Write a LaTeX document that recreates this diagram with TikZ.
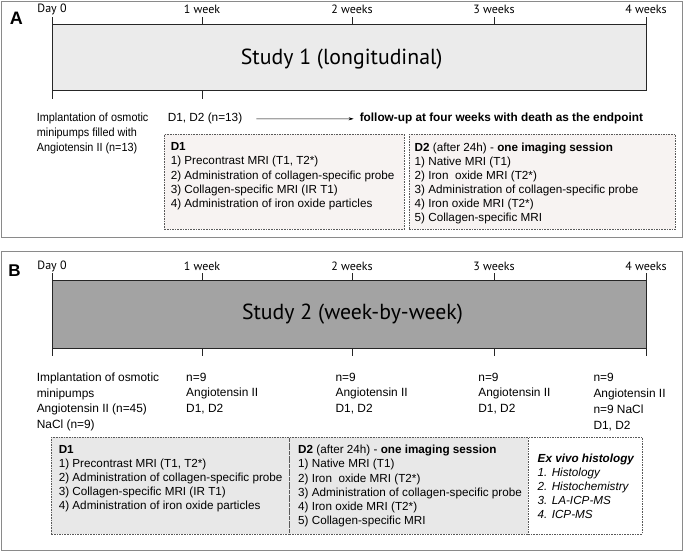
\documentclass[tikz,border=0pt]{standalone}
\usepackage{fontspec}
\setmainfont{Liberation Sans}
\newfontfamily\weekfont{PT Sans}
\newfontfamily\narrowfont{Liberation Sans}[FakeStretch=0.92]
\usetikzlibrary{arrows.meta,positioning}

\definecolor{barA}{HTML}{EBEBEB}
\definecolor{barB}{HTML}{A3A3A3}
\definecolor{boxA}{HTML}{F7F3F2}
\definecolor{boxB}{HTML}{E8E8E8}
\definecolor{framegray}{HTML}{8A8A8A}

\tikzset{
  panelframe/.style={draw=framegray, line width=1.3pt},
  timebar/.style={draw=black!85, line width=0.9pt},
  weeklabel/.style={font=\weekfont\fontsize{12}{14}\selectfont, inner sep=0pt},
  studytitle/.style={font=\weekfont\fontsize{21.8}{25}\selectfont, inner sep=0pt},
  panelletter/.style={font=\bfseries\fontsize{18}{20}\selectfont, inner sep=0pt},
  protbox/.style={draw=black!65, dash pattern=on 1.6pt off 1pt, line width=0.6pt,
    inner sep=0pt, anchor=north west},
  boxtext/.style={font=\fontsize{11.7}{14.1}\selectfont, align=left, inner sep=0pt,
    anchor=north west},
  sidetext/.style={font=\fontsize{11.9}{15.5}\selectfont, align=left, inner sep=0pt,
    anchor=north west},
  arrowline/.style={-{Stealth[length=5pt,width=3pt]}, line width=0.5pt}
}

\begin{document}
\begin{tikzpicture}[x=1pt,y=-1pt]
\useasboundingbox (0,0) rectangle (685,552);

% panel A
\draw[panelframe] (1.5,1.5) rectangle (682.5,237.7);
\node[panelletter] (letA) at (16.3,18.7) {A};
\foreach \wx/\wl [count=\i] in {52/Day 0,202/1 week,352/2 weeks,494/3 weeks,646/4 weeks}{
  \node[weeklabel] (wkA\i) at (\wx,9) {\wl};
  \draw[timebar] (\wx,17.3) -- (\wx,24);
}
\draw[timebar, fill=barA] (52,24) rectangle (646,90.6);
\foreach \wx in {52,202}
  \draw[timebar] (\wx,90.6) -- (\wx,99);
\node[studytitle] (titleA) at (341.7,59.5) {Study 1 (longitudinal)};

\node[sidetext, font=\narrowfont\fontsize{11.8}{14.6}\selectfont] (implA) at (36.6,113.1)
  {Implantation of osmotic\\minipumps filled with\\Angiotensin II (n=13)};
\node[sidetext, font=\fontsize{11.8}{14.6}\selectfont] (d1d2A) at (167.6,113.1) {D1, D2 (n=13)};
\node[sidetext, font=\bfseries\fontsize{11.8}{14.6}\selectfont] (followA) at (359.6,113.1)
  {follow-up at four weeks with death as the endpoint};
\draw[arrowline] ([xshift=14pt]d1d2A.east) -- ([xshift=-6pt]followA.west);

\node[protbox, fill=boxA, minimum width=239.5pt, minimum height=95pt] (d1boxA) at (164,134) {};
\node[protbox, fill=boxA, minimum width=266.2pt, minimum height=95pt] (d2boxA) at (408.8,134) {};
\node[boxtext] (d1textA) at ([xshift=6.6pt,yshift=-8.6pt]d1boxA.north west)
  {\textbf{D1}\\1) Precontrast MRI (T1, T2*)\\2) Administration of collagen-specific probe\\
   3) Collagen-specific MRI (IR T1)\\4) Administration of iron oxide particles};
\node[boxtext] (d2textA) at ([xshift=5.7pt,yshift=-8.6pt]d2boxA.north west)
  {\textbf{D2} (after 24h) - \textbf{one imaging session}\\1) Native MRI (T1)\\
   2) Iron\ \ oxide MRI (T2*)\\3) Administration of collagen-specific probe\\
   4) Iron oxide MRI (T2*)\\5) Collagen-specific MRI};

% panel B
\draw[panelframe] (1.5,251.7) rectangle (682.5,550.5);
\node[panelletter, font=\bfseries\fontsize{17}{19}\selectfont] (letB) at (14.5,270.5) {B};
\foreach \wx/\wl [count=\i] in {52/Day 0,202/1 week,352/2 weeks,494/3 weeks,646/4 weeks}{
  \node[weeklabel] (wkB\i) at (\wx,266) {\wl};
  \draw[timebar] (\wx,273.3) -- (\wx,280);
  \draw[timebar] (\wx,348) -- (\wx,356);
}
\draw[timebar, fill=barB] (52,280) rectangle (646,348);
\node[studytitle] (titleB) at (352.5,314) {Study 2 (week-by-week)};

\node[sidetext] (implB) at (36.6,372.7)
  {Implantation of osmotic\\minipumps\\Angiotensin II (n=45)\\NaCl (n=9)};
\foreach \cx [count=\i] in {186,335.4,478.2}
  \node[sidetext] (grpB\i) at (\cx,372.7) {n=9\\Angiotensin II\\D1, D2};
\node[sidetext, font=\fontsize{11.9}{16.2}\selectfont] (grpB4) at (593.3,372.7)
  {n=9\\Angiotensin II\\n=9 NaCl\\D1, D2};

\node[protbox, fill=boxB, minimum width=238.2pt, minimum height=96.5pt] (d1boxB) at (51.1,437) {};
\node[protbox, fill=boxB, minimum width=238.6pt, minimum height=96.5pt] (d2boxB) at (289.3,437) {};
\node[protbox, fill=white, minimum width=114pt, minimum height=96.5pt] (exvivoB) at (527.9,437) {};
\node[boxtext] (d1textB) at ([xshift=7.5pt,yshift=-8.2pt]d1boxB.north west)
  {\textbf{D1}\\1) Precontrast MRI (T1, T2*)\\2) Administration of collagen-specific probe\\
   3) Collagen-specific MRI (IR T1)\\4) Administration of iron oxide particles};
\node[boxtext] (d2textB) at ([xshift=8.7pt,yshift=-8.2pt]d2boxB.north west)
  {\textbf{D2} (after 24h) - \textbf{one imaging session}\\1) Native MRI (T1)\\
   2) Iron\ \ oxide MRI (T2*)\\3) Administration of collagen-specific probe\\
   4) Iron oxide MRI (T2*)\\5) Collagen-specific MRI};
\node[boxtext, font=\itshape\fontsize{11.7}{14.1}\selectfont] (exvivotext)
  at ([xshift=9.6pt,yshift=-16.6pt]exvivoB.north west)
  {\textbf{Ex vivo histology}\\1. Histology\\2. Histochemistry\\3. LA-ICP-MS\\4. ICP-MS};
\end{tikzpicture}
\end{document}
